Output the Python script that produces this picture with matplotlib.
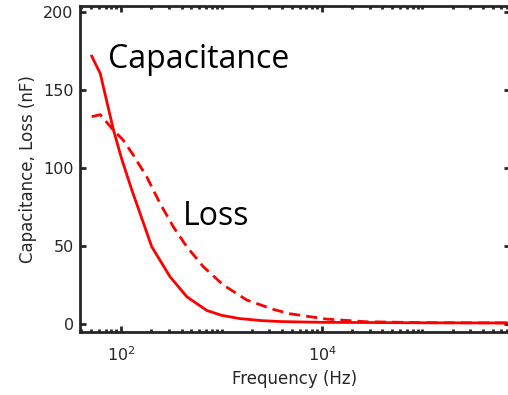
#!/usr/bin/env python3
import matplotlib
matplotlib.use("Agg")
import matplotlib.pyplot as plt
from matplotlib.ticker import LogLocator, NullFormatter, FixedLocator

freq_cap = [51, 62, 84, 102, 128, 202, 307, 451, 713, 1000, 1520, 2500, 3820,
            10000, 100000, 735000]
capacitance = [171.6, 160.5, 124.3, 105.2, 85.8, 49.5, 30.3, 17.5, 8.7, 5.6, 3.5, 2.2, 1.6,
               1.1, 0.8, 0.7]

freq_loss = [51, 62, 81, 105, 132, 180, 244, 331, 451, 659, 1042, 1782, 3273,
             4800, 11000, 27000, 100000, 735000]
loss = [132.8, 134.1, 125.3, 117.8, 108.3, 94.3, 77.3, 62.3, 49.5, 36.7, 25, 15.4, 9.4,
        6.6, 3.2, 1.5, 0.9, 0.7]

y_ticks = [0, 50, 100, 150, 200]
x_major = [1e2, 1e4, 1e6]

AXCOL = "#262626"


def plot_chart():
    fig = plt.figure(figsize=(5.08, 3.95), dpi=100)
    ax = fig.add_axes([80 / 508, 63.3 / 395, 429.5 / 508, 326.2 / 395])

    ax.plot(freq_cap, capacitance, color="red", lw=2)
    ax.plot(freq_loss, loss, color="red", lw=2, linestyle=(0, (4, 2.2)))

    ax.set_xscale("log")
    ax.set_xlim(39, 7.35e5)
    ax.set_ylim(-4.9, 204)

    ax.xaxis.set_major_locator(FixedLocator(x_major))
    ax.xaxis.set_minor_locator(LogLocator(base=10, subs=range(1, 10), numticks=20))
    ax.xaxis.set_minor_formatter(NullFormatter())
    ax.set_yticks(y_ticks)

    for s in ax.spines.values():
        s.set_color(AXCOL)
        s.set_linewidth(2)

    ax.tick_params(which="both", direction="in", top=True, right=True,
                   colors=AXCOL, labelsize=11.5)
    ax.tick_params(which="major", length=4.5, width=2)
    ax.tick_params(which="minor", length=2.5, width=2)
    ax.tick_params(axis="x", pad=10)
    ax.tick_params(axis="y", pad=4.5)

    ax.set_xlabel("Frequency (Hz)", fontsize=12, color=AXCOL)
    ax.set_ylabel("Capacitance, Loss (nF)", fontsize=12, color=AXCOL)
    ax.yaxis.set_label_coords(-0.100, 0.5)
    ax.xaxis.set_label_coords(0.5, -0.117)

    ax.text(0.065, 0.808, "Capacitance", transform=ax.transAxes,
            family="Open Sans", fontsize=23, va="baseline", ha="left")
    ax.text(0.240, 0.327, "Loss", transform=ax.transAxes,
            family="Open Sans", fontsize=23, va="baseline", ha="left")

    fig.savefig("out.png", dpi=100)


def main():
    plot_chart()


if __name__ == '__main__':
    main()
